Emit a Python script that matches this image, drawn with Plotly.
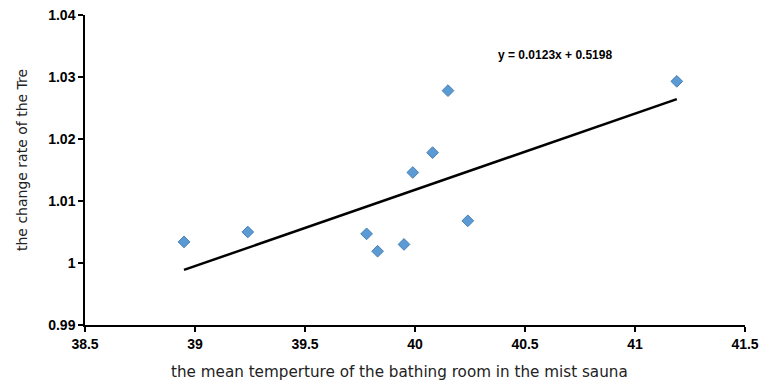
import plotly.graph_objects as go

# data
temp_x = [38.95, 39.24, 39.78, 39.83, 39.95, 39.99, 40.08, 40.15, 40.24, 41.19]
rate_y = [1.0034, 1.0050, 1.0047, 1.0019, 1.0030, 1.0146, 1.0178, 1.0278, 1.0068, 1.0293]
slope = 0.0123
intercept = 0.5198
x_ticks = [38.5, 39, 39.5, 40, 40.5, 41, 41.5]
y_ticks = [0.99, 1.0, 1.01, 1.02, 1.03, 1.04]
y_tick_labels = ["0.99", "1", "1.01", "1.02", "1.03", "1.04"]

x_min, x_max = min(temp_x), max(temp_x)
trend_x = [x_min, x_max]
trend_y = [slope * v + intercept for v in trend_x]

FONT = "Liberation Sans, Arial"

fig = go.Figure()
fig.add_trace(go.Scatter(
    x=trend_x, y=trend_y, mode="lines",
    line=dict(color="black", width=2.5), showlegend=False, hoverinfo="skip"))
fig.add_trace(go.Scatter(
    x=temp_x, y=rate_y, mode="markers",
    marker=dict(symbol="diamond", size=9, color="#5b9bd5",
                line=dict(color="#4a7fb0", width=1)),
    showlegend=False))

fig.add_annotation(
    x=40.37, y=1.0335, xref="x", yref="y", showarrow=False, xanchor="left",
    text="<b>y = 0.0123x + 0.5198</b>",
    font=dict(family=FONT, size=12, color="black"))
fig.add_annotation(
    x=0.476, y=-0.1516, xref="paper", yref="paper", showarrow=False,
    xanchor="center", yanchor="middle",
    text="the mean temperture of the bathing room in the mist sauna",
    font=dict(family="DejaVu Sans", size=15.2, color="#222"))
fig.add_annotation(
    x=-0.0955, y=0.532, xref="paper", yref="paper", showarrow=False,
    xanchor="center", yanchor="middle", textangle=-90,
    text="the change rate of the Tre",
    font=dict(family="DejaVu Sans", size=14, color="#222"))

fig.update_xaxes(
    range=[38.5, 41.5], tickvals=x_ticks, ticktext=[f"<b>{v:g}</b>" for v in x_ticks],
    showline=True, linecolor="black", linewidth=1.5, ticks="outside",
    ticklen=5, tickcolor="black", tickwidth=1.5, showgrid=False, zeroline=False,
    automargin=False, ticklabeloverflow="allow",
    tickfont=dict(family=FONT, size=14, color="black"))
fig.update_yaxes(
    range=[0.99, 1.04], tickvals=y_ticks,
    ticktext=[f"<b>{t}</b>" for t in y_tick_labels],
    showline=True, linecolor="black", linewidth=1.5, ticks="outside",
    ticklen=5, tickcolor="black", tickwidth=1.5, showgrid=False, zeroline=False,
    automargin=False, ticklabeloverflow="allow",
    tickfont=dict(family=FONT, size=14, color="black"))

# page body has a default 8px margin, so the figure is sized to fit inside it
fig.update_layout(
    width=752, height=376,
    margin=dict(l=77, r=15, t=7, b=59, autoexpand=False),
    plot_bgcolor="white", paper_bgcolor="white")

fig.write_html("out.html")
